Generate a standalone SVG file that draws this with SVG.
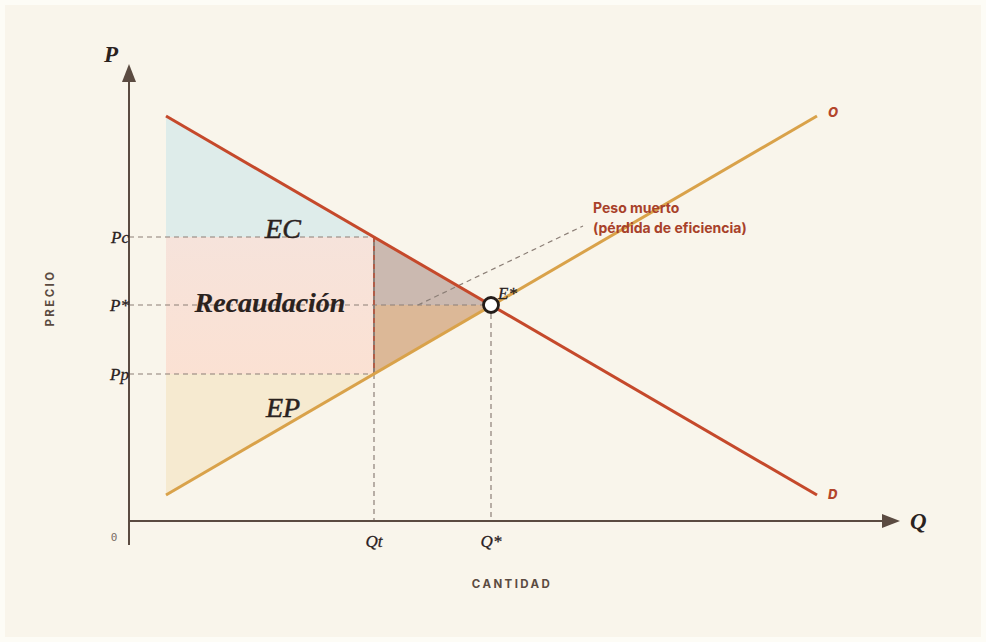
<svg xmlns="http://www.w3.org/2000/svg" width="986" height="642" viewBox="0 0 986 642">
  <defs>
    <style>
      .axis { stroke: #5b4b41; stroke-width: 2; fill: none; }
      .guide { stroke: #8c7f77; stroke-width: 1.2; stroke-dasharray: 5 4; fill: none; }
      .tick { font-family: "Liberation Serif", "DejaVu Serif", serif; font-style: italic; font-size: 17px; fill: #2a221e; stroke: #2a221e; stroke-width: 0.3px; }
      .area { font-family: "Liberation Serif", "DejaVu Serif", serif; font-style: italic; font-size: 28px; fill: #2a221e; stroke: #2a221e; stroke-width: 0.5px; }
      .cap { font-family: Inter, "Liberation Sans", sans-serif; font-weight: 700; font-size: 11.5px; letter-spacing: 2.4px; fill: #5b4b41; }
      .curve-lbl { font-family: Inter, "Liberation Sans", sans-serif; font-weight: 800; font-style: italic; font-size: 13px; fill: #b3452b; }
      .note { font-family: Inter, "Liberation Sans", sans-serif; font-weight: 700; font-size: 14px; fill: #a8412a; }
    </style>
    <linearGradient id="taxFill" x1="0" y1="0" x2="0" y2="1">
      <stop offset="0" stop-color="#f6e3db"/>
      <stop offset="1" stop-color="#fbe1d3"/>
    </linearGradient>
  </defs>

  <!-- page -->
  <rect x="0" y="0" width="986" height="642" fill="#fdfcf6"/>
  <rect x="5" y="5" width="976" height="632" fill="#f9f5eb"/>

  <!-- surplus areas -->
  <g id="areas">
    <polygon points="166,116 166,237 374,237" fill="#deecea"/>
    <rect x="166" y="237" width="208" height="137" fill="url(#taxFill)"/>
    <polygon points="166,374 374,374 166,495" fill="#f6ead0"/>
    <polygon points="374,237 374,305 491,305" fill="#cbb9b0"/>
    <polygon points="374,305 374,374 491,305" fill="#dcb897"/>
  </g>

  <!-- guide lines -->
  <g id="guides">
    <line class="guide" x1="129" y1="237" x2="374" y2="237"/>
    <line class="guide" x1="129" y1="305" x2="491" y2="305"/>
    <line class="guide" x1="129" y1="374" x2="374" y2="374"/>
    <line class="guide" x1="374" y1="374" x2="374" y2="521"/>
    <line class="guide" x1="491" y1="305" x2="491" y2="521"/>
    <line x1="374" y1="237" x2="374" y2="374" stroke="#8c7f77" stroke-width="2"/>
    <line x1="374" y1="237" x2="374" y2="374" stroke="#c8472a" stroke-width="1.2" stroke-dasharray="5 4"/>
    <line class="guide" x1="418" y1="305" x2="583" y2="226"/>
  </g>

  <!-- axes -->
  <g id="axes">
    <line class="axis" x1="129" y1="545" x2="129" y2="80"/>
    <polygon points="129,64 122,82 136,82" fill="#5b4b41"/>
    <line class="axis" x1="128" y1="521" x2="883" y2="521"/>
    <polygon points="900,521 882,514 882,528" fill="#5b4b41"/>
  </g>

  <!-- supply and demand -->
  <g id="curves">
    <line id="demand" x1="166" y1="116" x2="817" y2="495" stroke="#c5492b" stroke-width="3"/>
    <line id="supply" x1="166" y1="495" x2="817" y2="116" stroke="#d9a24a" stroke-width="3"/>
  </g>

  <!-- equilibrium -->
  <g id="equilibrium">
    <circle cx="491" cy="305" r="7.5" fill="#ffffff" stroke="#231c19" stroke-width="2.8"/>
    <text class="tick" x="498" y="299">E*</text>
  </g>

  <!-- labels -->
  <g id="labels">
    <text x="104" y="62" font-family="'Liberation Serif', serif" font-style="italic" font-weight="700" font-size="23" fill="#2a221e">P</text>
    <text x="910" y="529" font-family="'Liberation Serif', serif" font-style="italic" font-weight="700" font-size="23" fill="#2a221e">Q</text>
    <text class="tick" x="129" y="243" text-anchor="end">Pc</text>
    <text class="tick" x="129" y="311" text-anchor="end">P*</text>
    <text class="tick" x="129" y="380" text-anchor="end">Pp</text>
    <text class="tick" x="374" y="547" text-anchor="middle">Qt</text>
    <text class="tick" x="491" y="547" text-anchor="middle">Q*</text>
    <text x="114" y="541" font-family="'DejaVu Sans Mono', 'Liberation Mono', monospace" font-size="11" fill="#7a6e66" text-anchor="middle">0</text>
    <text class="area" x="283" y="238" text-anchor="middle">EC</text>
    <text class="area" x="270" y="312" text-anchor="middle" font-weight="700" style="stroke-width:0.2px">Recaudación</text>
    <text class="area" x="283" y="417" text-anchor="middle">EP</text>
    <text class="curve-lbl" x="828" y="117">O</text>
    <text class="curve-lbl" x="828" y="499">D</text>
    <text class="note" x="593" y="213">Peso muerto</text>
    <text class="note" x="593" y="233">(pérdida de eficiencia)</text>
    <text class="cap" x="512" y="588" text-anchor="middle">CANTIDAD</text>
    <text class="cap" x="0" y="0" text-anchor="middle" transform="translate(54,298) rotate(-90)">PRECIO</text>
  </g>
</svg>
